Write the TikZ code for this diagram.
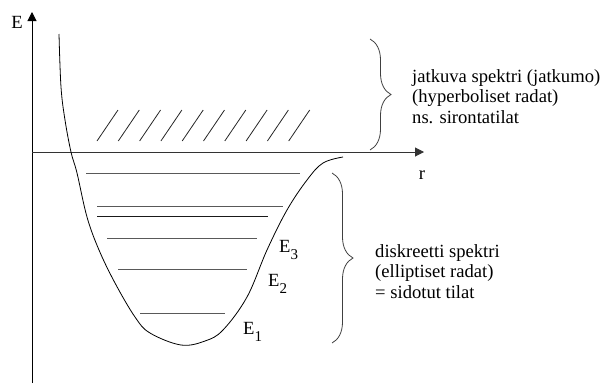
\documentclass[tikz,border=0pt]{standalone}
\usepackage{fontspec}
\setmainfont{Liberation Serif}
\usetikzlibrary{arrows.meta,decorations.pathreplacing}
\newcommand{\lev}[1]{E\raisebox{-7pt}{\fontsize{15}{15}\selectfont #1}}
\begin{document}
\begin{tikzpicture}[x=1pt, y=-1pt, >={Triangle[length=9pt,width=9pt]},
    level/.style={black!65, line width=1pt},
    hatch/.style={black!85, line width=0.8pt},
    spectrum/.style={decorate, decoration={brace, amplitude=21pt}, black!75, line width=0.8pt},
    lbl/.style={font=\fontsize{18.6}{20.5}\selectfont, inner sep=0pt}]
    \useasboundingbox (0,0) rectangle (604,383);
    % Axes
    \coordinate (O) at (32,152);
    \coordinate (Ebottom) at (32,383);
    \coordinate (Etop) at (32,12);
    \coordinate (rtip) at (424,152);
    \draw[->, line width=1pt] (Ebottom) -- (Etop);
    \draw[->, line width=1pt, black!80] (O) -- (rtip);
    \node[lbl] (Elabel) at (17,22) {E};
    \node[lbl] (rlabel) at (422,175) {r};
    % Potential curve
    \draw[line width=0.8pt] plot[smooth, tension=0.6] coordinates {(59,34) (61,87) (65,120) (71,152) (77,173) (87,217) (99,250) (115,283) (135,317) (150,333) (181,345) (205,341) (223,330) (247,297) (267,250) (287,210) (307,180) (323,163) (343,157)};
    % Bound levels
    \draw[level] (86,173) -- (300,173);
    \draw[level] (97,206) -- (283,206);
    \draw[level, black!90] (97,216) -- (268,216);
    \draw[level] (107,238) -- (257,238);
    \draw[level] (118,269) -- (247,269);
    \draw[level] (140,313) -- (225,313);
    \node[lbl, anchor=base west] (E3) at (279,252) {\lev{3}};
    \node[lbl, anchor=base west] (E2) at (268,286) {\lev{2}};
    \node[lbl, anchor=base west] (E1) at (243,334) {\lev{1}};
    % Continuum hatching
    \foreach \k in {0,...,9}
        \draw[hatch] (97+21.3*\k,141) -- (118+21.3*\k,110);
    % Braces
    \draw[spectrum] (370,39) -- (370,150);
    \draw[spectrum] (332,173) -- (332,343);
    \node[lbl, anchor=north west, align=left] (continuum) at (412,69)
        {jatkuva spektri (jatkumo)\\(hyperboliset radat)\\ns. sirontatilat};
    \node[lbl, anchor=north west, align=left] (discrete) at (375,244.3)
        {diskreetti spektri\\(elliptiset radat)\\= sidotut tilat};
\end{tikzpicture}
\end{document}
